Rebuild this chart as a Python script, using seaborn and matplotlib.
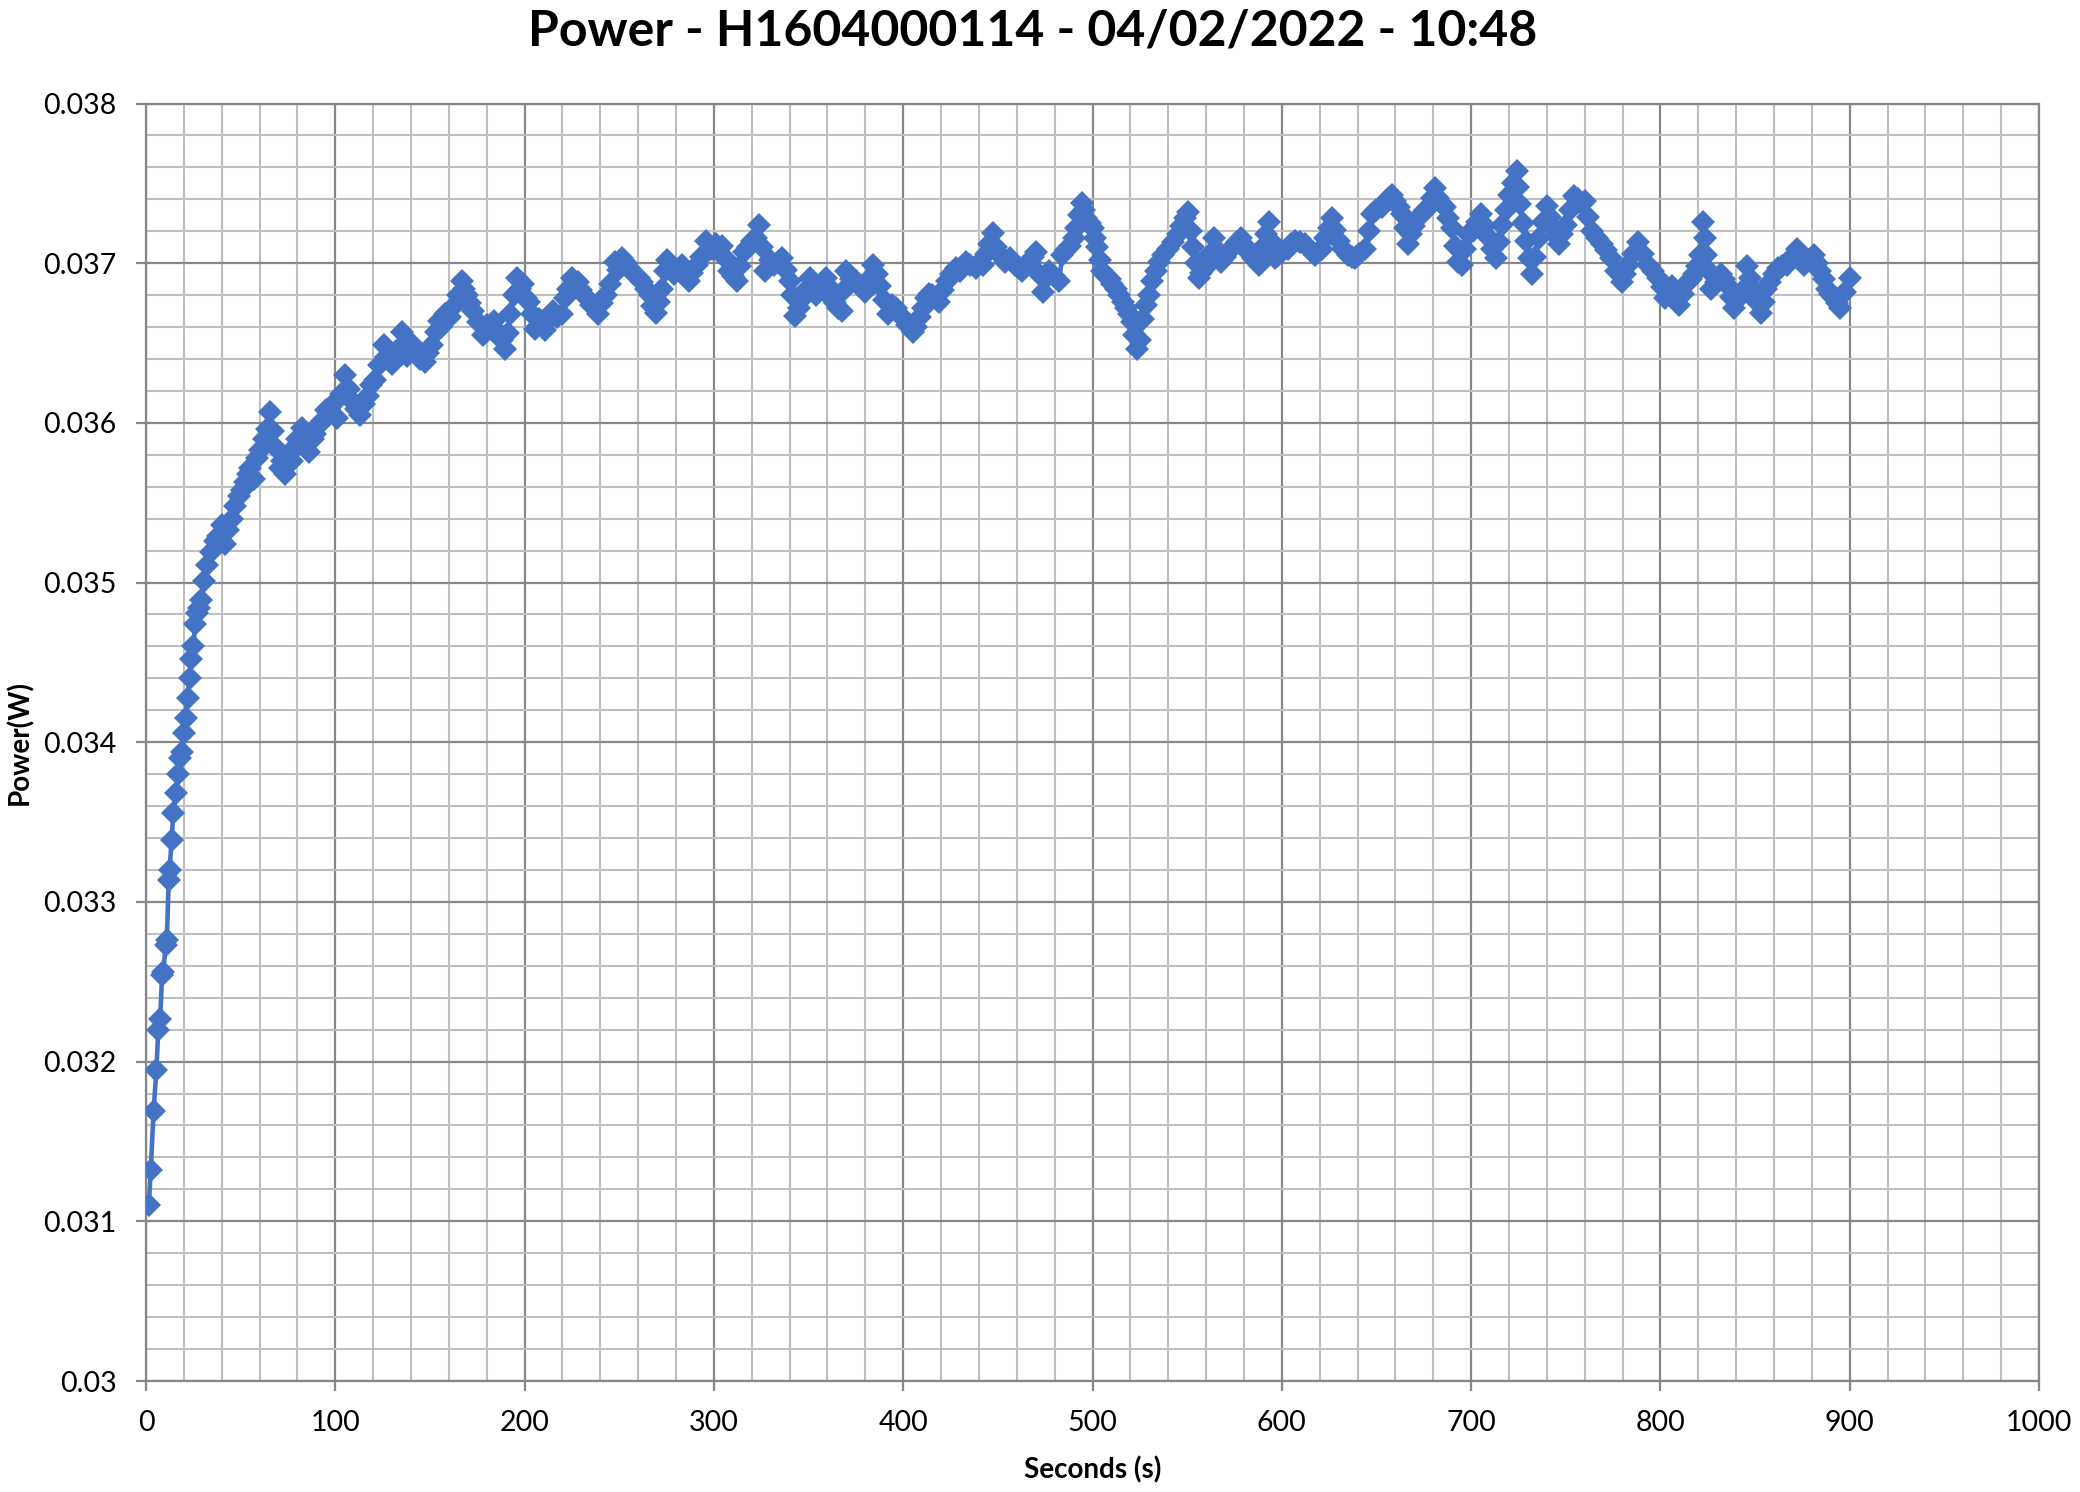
import numpy as np
import pandas as pd
import matplotlib
matplotlib.use("Agg")
import matplotlib.pyplot as plt
from matplotlib.ticker import MultipleLocator
import seaborn as sns

# ---------------- data ----------------
seconds = [
    1.5, 2.5, 4, 5.5, 6.5, 7.5, 8.5, 9, 10.5, 11, 12, 12.5, 13.5, 14.5, 16, 17, 18, 19, 20, 21,
    22, 23, 24, 25, 26, 27, 28, 29, 30.7, 32.3, 34.1, 36.7, 38, 40.2, 41.9, 43.5, 45.4, 47, 48.9, 50.5,
    52.4, 54, 55.1, 57, 58.5, 60, 62.1, 64, 65.6, 67, 68.5, 70.7, 72, 73.4, 75, 77, 78.5, 80, 82.5, 84,
    86, 88, 89.5, 91, 93, 95, 96.5, 99, 101, 103, 105.3, 107, 109, 111, 113, 115, 117.5, 119, 121, 123,
    125.5, 127, 130, 132, 135, 136.5, 138, 140, 142, 145, 147.5, 149, 151, 153, 154.6, 156, 158, 160.5, 163, 165,
    166.9, 168, 169.5, 171, 173, 175.5, 178, 180, 182, 184, 186, 188, 189.8, 191, 192.5, 194.5, 196, 197.5, 199, 201,
    202.5, 204, 205.6, 207.5, 209, 211, 213, 215, 217, 219.5, 221.5, 223, 225, 226.5, 228, 230, 233, 235, 237, 239,
    241, 243, 245, 247.8, 249.5, 251.7, 253.5, 255, 257.5, 260.5, 262, 264, 266, 267.5, 269.3, 271, 272.5, 274, 275.4, 277,
    279, 281, 283, 285, 286.8, 288.5, 291, 293, 295.6, 297.5, 299, 301, 304.4, 306, 308, 310, 312.3, 314, 316, 318,
    320, 322, 323.7, 325.5, 327.2, 329.5, 332, 334, 336, 338, 340, 341.5, 343, 345, 347, 349, 350.9, 352.5, 354, 356.5,
    359, 360.5, 362, 364, 365.8, 367.6, 369, 370, 372.5, 375, 377.5, 379.8, 382, 384, 386, 388, 390, 392, 394, 396,
    398, 399.6, 402, 405, 407, 409, 410.5, 412, 413.5, 415, 417, 419, 421, 423, 425.5, 427.8, 430, 433, 435.5, 438.4,
    440, 442, 444, 445.5, 447.2, 449, 451, 454, 456.5, 459, 461, 463, 465, 467, 468.5, 470, 472, 473.6, 475, 477,
    479.5, 482.4, 484, 486, 488, 490, 491.2, 492.8, 494.3, 495.5, 496.5, 498.5, 500, 501.3, 502.6, 504, 505.2, 507, 509, 510.5,
    512.3, 514, 516, 517.5, 519.3, 521, 522, 523.7, 525, 526.5, 528.1, 530, 531.6, 533.5, 535.2, 537.5, 540, 542.5, 545, 547,
    549, 550.7, 552, 553, 554.5, 556, 557.5, 559.5, 562, 564, 566, 568, 570, 571.8, 574, 576.5, 578.7, 580.5, 582, 585,
    587.7, 590, 591.5, 593, 594.8, 596.5, 598, 600, 603.5, 605, 607, 609.5, 612, 615, 617.6, 619, 621, 623, 624.8, 626.4,
    628.2, 630, 632.5, 635, 637, 638.7, 641, 644, 646, 647.5, 650, 652.8, 655, 656.5, 658, 660, 661.7, 663.4, 665, 666.9,
    668.5, 670, 672, 674, 675.8, 677.5, 679.2, 681, 682.6, 684.3, 686, 688, 689.8, 691.5, 693, 695, 696.8, 698.6, 701, 703,
    705.2, 707.5, 709.6, 711.3, 713, 714.8, 716.5, 718.2, 720, 722, 724, 725, 726, 727.5, 729, 730.7, 732.4, 734, 736, 738,
    740, 741.8, 743.5, 745, 746.4, 748, 750, 752, 754.3, 756.5, 758.5, 760.4, 762, 764, 766.5, 769, 771.5, 774, 776.8, 779.6,
    781.3, 783, 785.7, 788.4, 791, 793.6, 796, 798.9, 800.7, 802.4, 804, 806, 808, 810, 812, 814.5, 816, 818, 819.5, 821,
    822.5, 823.5, 824.3, 825.5, 826.9, 829.5, 832, 833.8, 835.5, 837.2, 839, 841.5, 844, 846, 847.5, 849, 851, 853, 854.5, 856,
    858, 860, 862, 864.5, 867, 869.5, 872, 874, 876, 878.5, 881, 882.8, 884.5, 886.2, 888, 889.7, 891.5, 893.2, 895, 897.5,
    900,
]

power_w = [
    0.03110, 0.03132, 0.03169, 0.03195, 0.03220, 0.03227, 0.03254, 0.03256, 0.03273, 0.03276, 0.03314, 0.03320, 0.03339, 0.03356, 0.03368, 0.03380, 0.03390, 0.03394, 0.03406, 0.03415,
    0.03428, 0.03440, 0.03452, 0.03460, 0.03474, 0.03481, 0.03484, 0.03489, 0.03501, 0.03511, 0.03519, 0.03526, 0.03529, 0.03536, 0.03524, 0.03533, 0.03540, 0.03548, 0.03554, 0.03558,
    0.03563, 0.03568, 0.03572, 0.03565, 0.03578, 0.03583, 0.03590, 0.03596, 0.03607, 0.03595, 0.03584, 0.03572, 0.03576, 0.03568, 0.03580, 0.03576, 0.03585, 0.03590, 0.03597, 0.03587,
    0.03582, 0.03590, 0.03593, 0.03598, 0.03601, 0.03608, 0.03605, 0.03612, 0.03603, 0.03618, 0.03630, 0.03621, 0.03614, 0.03609, 0.03605, 0.03612, 0.03617, 0.03624, 0.03627, 0.03636,
    0.03649, 0.03641, 0.03637, 0.03645, 0.03657, 0.03648, 0.03642, 0.03650, 0.03647, 0.03640, 0.03638, 0.03644, 0.03649, 0.03657, 0.03664, 0.03660, 0.03668, 0.03666, 0.03674, 0.03680,
    0.03689, 0.03684, 0.03680, 0.03675, 0.03670, 0.03663, 0.03655, 0.03661, 0.03659, 0.03664, 0.03657, 0.03652, 0.03646, 0.03656, 0.03668, 0.03680, 0.03691, 0.03684, 0.03687, 0.03678,
    0.03676, 0.03668, 0.03659, 0.03665, 0.03664, 0.03658, 0.03665, 0.03670, 0.03666, 0.03668, 0.03678, 0.03684, 0.03691, 0.03686, 0.03688, 0.03683, 0.03678, 0.03674, 0.03672, 0.03668,
    0.03675, 0.03680, 0.03687, 0.03701, 0.03696, 0.03703, 0.03700, 0.03697, 0.03694, 0.03691, 0.03688, 0.03684, 0.03680, 0.03673, 0.03669, 0.03676, 0.03684, 0.03695, 0.03702, 0.03697,
    0.03693, 0.03696, 0.03699, 0.03693, 0.03689, 0.03694, 0.03699, 0.03704, 0.03714, 0.03708, 0.03709, 0.03712, 0.03711, 0.03703, 0.03695, 0.03692, 0.03689, 0.03698, 0.03707, 0.03710,
    0.03714, 0.03716, 0.03724, 0.03710, 0.03695, 0.03702, 0.03699, 0.03701, 0.03703, 0.03696, 0.03689, 0.03680, 0.03667, 0.03672, 0.03678, 0.03684, 0.03691, 0.03686, 0.03680, 0.03684,
    0.03691, 0.03686, 0.03678, 0.03675, 0.03672, 0.03670, 0.03684, 0.03695, 0.03690, 0.03689, 0.03686, 0.03682, 0.03690, 0.03699, 0.03693, 0.03686, 0.03677, 0.03668, 0.03674, 0.03672,
    0.03668, 0.03666, 0.03661, 0.03657, 0.03660, 0.03666, 0.03672, 0.03678, 0.03681, 0.03680, 0.03678, 0.03676, 0.03683, 0.03689, 0.03693, 0.03697, 0.03695, 0.03701, 0.03699, 0.03697,
    0.03700, 0.03699, 0.03706, 0.03712, 0.03719, 0.03710, 0.03705, 0.03701, 0.03703, 0.03699, 0.03697, 0.03695, 0.03698, 0.03701, 0.03704, 0.03707, 0.03693, 0.03682, 0.03690, 0.03695,
    0.03692, 0.03689, 0.03705, 0.03708, 0.03711, 0.03716, 0.03722, 0.03730, 0.03738, 0.03733, 0.03728, 0.03725, 0.03722, 0.03716, 0.03710, 0.03702, 0.03695, 0.03692, 0.03690, 0.03687,
    0.03684, 0.03680, 0.03676, 0.03672, 0.03668, 0.03663, 0.03655, 0.03646, 0.03652, 0.03665, 0.03674, 0.03680, 0.03689, 0.03695, 0.03701, 0.03705, 0.03709, 0.03713, 0.03718, 0.03723,
    0.03728, 0.03732, 0.03720, 0.03710, 0.03700, 0.03691, 0.03694, 0.03697, 0.03706, 0.03716, 0.03708, 0.03701, 0.03704, 0.03707, 0.03710, 0.03713, 0.03716, 0.03711, 0.03707, 0.03703,
    0.03699, 0.03710, 0.03718, 0.03726, 0.03713, 0.03703, 0.03705, 0.03707, 0.03709, 0.03712, 0.03714, 0.03713, 0.03712, 0.03708, 0.03705, 0.03707, 0.03709, 0.03716, 0.03722, 0.03728,
    0.03721, 0.03714, 0.03709, 0.03705, 0.03704, 0.03703, 0.03706, 0.03709, 0.03720, 0.03731, 0.03733, 0.03735, 0.03739, 0.03741, 0.03743, 0.03739, 0.03735, 0.03731, 0.03722, 0.03712,
    0.03718, 0.03723, 0.03728, 0.03731, 0.03733, 0.03735, 0.03741, 0.03747, 0.03741, 0.03738, 0.03735, 0.03728, 0.03722, 0.03711, 0.03701, 0.03699, 0.03709, 0.03718, 0.03720, 0.03726,
    0.03731, 0.03723, 0.03716, 0.03709, 0.03703, 0.03713, 0.03724, 0.03733, 0.03743, 0.03750, 0.03758, 0.03748, 0.03737, 0.03725, 0.03714, 0.03703, 0.03693, 0.03704, 0.03716, 0.03726,
    0.03736, 0.03729, 0.03722, 0.03717, 0.03712, 0.03718, 0.03724, 0.03733, 0.03742, 0.03740, 0.03737, 0.03739, 0.03729, 0.03720, 0.03716, 0.03712, 0.03708, 0.03703, 0.03695, 0.03688,
    0.03693, 0.03699, 0.03706, 0.03713, 0.03706, 0.03699, 0.03695, 0.03691, 0.03685, 0.03678, 0.03682, 0.03686, 0.03680, 0.03674, 0.03681, 0.03688, 0.03690, 0.03693, 0.03698, 0.03705,
    0.03726, 0.03716, 0.03705, 0.03695, 0.03684, 0.03688, 0.03693, 0.03690, 0.03686, 0.03679, 0.03672, 0.03678, 0.03684, 0.03698, 0.03691, 0.03684, 0.03676, 0.03669, 0.03676, 0.03684,
    0.03688, 0.03693, 0.03697, 0.03698, 0.03699, 0.03704, 0.03709, 0.03704, 0.03699, 0.03702, 0.03705, 0.03700, 0.03695, 0.03690, 0.03684, 0.03681, 0.03678, 0.03675, 0.03672, 0.03682,
    0.03691,
]

x_ticks = [0, 100, 200, 300, 400, 500, 600, 700, 800, 900, 1000]
y_ticks = [0.030, 0.031, 0.032, 0.033, 0.034, 0.035, 0.036, 0.037, 0.038]
y_tick_labels = ["0.03", "0.031", "0.032", "0.033", "0.034", "0.035", "0.036", "0.037", "0.038"]

title_text = "Power - H1604000114 - 04/02/2022 - 10:48"
x_label = "Seconds (s)"
y_label = "Power(W)"

# ---------------- style ----------------
sns.set_theme(style="white")
plt.rcParams["font.family"] = ["Lato", "DejaVu Sans"]

W, H = 2080, 1492
fig = plt.figure(figsize=(W / 100, H / 100), dpi=100)
left, right, top, bottom = 146, 2039, 103.5, 1381
ax = fig.add_axes([left / W, 1 - bottom / H, (right - left) / W, (bottom - top) / H])

df = pd.DataFrame({"t": seconds, "p": power_w})
sns.lineplot(data=df, x="t", y="p", ax=ax, color="#4472C4", linewidth=3.3,
             marker="D", markersize=12.5, markeredgewidth=0, estimator=None, sort=False,
             zorder=3)

ax.set_xlim(0, 1000)
ax.set_ylim(0.030, 0.038)
ax.set_xticks(x_ticks)
ax.set_xticklabels([str(v) for v in x_ticks])
ax.set_yticks(y_ticks)
ax.set_yticklabels(y_tick_labels)
ax.xaxis.set_minor_locator(MultipleLocator(20))
ax.yaxis.set_minor_locator(MultipleLocator(0.0002))

ax.set_axisbelow(True)
ax.grid(which="minor", color="#BFBFBF", linewidth=1.5)
ax.grid(which="major", color="#878787", linewidth=1.6)
for s in ax.spines.values():
    s.set_color("#878787")
    s.set_linewidth(1.6)

ax.tick_params(which="major", direction="out", length=7, width=1.6, color="#878787",
               pad=14, labelsize=20.5, labelcolor="black", left=True, bottom=True)
ax.tick_params(which="minor", length=0)

ax.set_xlabel(x_label, fontsize=20, fontweight="bold", color="black")
ax.xaxis.set_label_coords(0.5, (bottom - 1470) / (bottom - top))
ax.xaxis.label.set_va("center")
ax.set_ylabel(y_label, fontsize=20, fontweight="bold", color="black")
ax.yaxis.set_label_coords((20 - left) / (right - left), 0.5)
ax.yaxis.label.set_va("center")

fig.suptitle(title_text, x=1033 / W, y=1 - 31 / H, va="center", ha="center",
             fontsize=36, fontweight="bold", color="black")

fig.savefig("out.png", dpi=100, facecolor="white")
